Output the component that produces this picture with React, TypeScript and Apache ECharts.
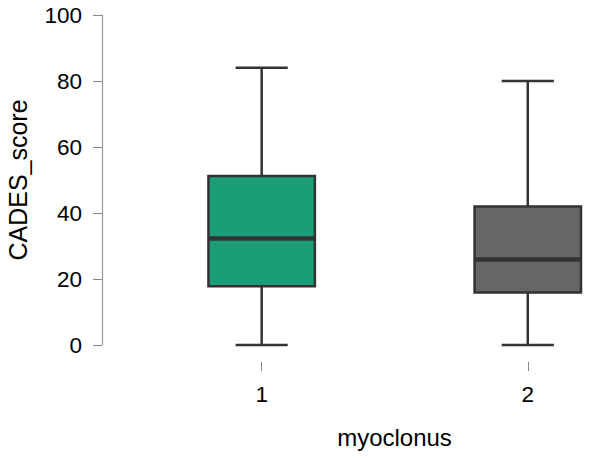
import React, { useEffect, useRef } from "react";
import * as echarts from "echarts";

const groups = [1, 2];
const groupLabels = ["1", "2"];
const whiskerLow = [0, 0];
const q1 = [17.8, 15.9];
const median = [32.3, 25.9];
const q3 = [51.2, 42.0];
const whiskerHigh = [84, 80];
const boxColors = ["#1b9e77", "#666666"];
const yTicks = [0, 20, 40, 60, 80, 100];

const FONT = "Liberation Sans, Arial, Helvetica, sans-serif";
const BOX_HALF = 0.2;
const CAP_HALF = 0.098;
const EDGE = "#333333";

export default function App() {
  const ref = useRef<HTMLDivElement>(null);
  useEffect(() => {
    if (!ref.current) return;
    const chart = echarts.init(ref.current, null, { renderer: "svg" });
    const data = groups.map((g, i) => [g, whiskerLow[i], q1[i], median[i], q3[i], whiskerHigh[i]]);
    chart.setOption({
      animation: false,
      backgroundColor: "#ffffff",
      grid: { left: 102, right: 9, top: 15, bottom: 113, containLabel: false, outerBoundsMode: "none" },
      xAxis: {
        type: "value",
        min: 0.4,
        max: 2.2,
        offset: 17,
        name: "myoclonus",
        nameLocation: "middle",
        nameGap: 63,
        nameTextStyle: { fontFamily: FONT, fontSize: 24, color: "#000", padding: [0, 0, 0, 106] },
        axisLine: { show: false, onZero: false },
        splitLine: { show: false },
        axisTick: { show: true, customValues: groups, length: 9, lineStyle: { color: "#888", width: 1 } },
        axisLabel: {
          customValues: groups,
          margin: 21,
          fontFamily: FONT,
          fontSize: 22.5,
          color: "#000",
          formatter: (v: number) => groupLabels[groups.indexOf(v)] ?? "",
        },
      },
      yAxis: {
        type: "value",
        min: 0,
        max: 100,
        interval: 20,
        name: "CADES_score",
        nameLocation: "middle",
        nameGap: 72,
        nameTextStyle: { fontFamily: FONT, fontSize: 25, color: "#000" },
        axisLine: { show: true, onZero: false, lineStyle: { color: "#999", width: 1.2 } },
        axisTick: { show: true, length: 9, lineStyle: { color: "#888", width: 1 } },
        splitLine: { show: false },
        axisLabel: {
          customValues: yTicks,
          margin: 20,
          fontFamily: FONT,
          fontSize: 22.5,
          color: "#000",
        },
      },
      series: [
        {
          type: "custom",
          data,
          renderItem: (params: any, api: any) => {
            const x = api.value(0);
            const pLo = api.coord([x, api.value(1)]);
            const pQ1 = api.coord([x, api.value(2)]);
            const pMed = api.coord([x, api.value(3)]);
            const pQ3 = api.coord([x, api.value(4)]);
            const pHi = api.coord([x, api.value(5)]);
            const bl = api.coord([x - BOX_HALF, 0])[0];
            const br = api.coord([x + BOX_HALF, 0])[0];
            const cl = api.coord([x - CAP_HALF, 0])[0];
            const cr = api.coord([x + CAP_HALF, 0])[0];
            const cx = pLo[0];
            const lineStyle = { stroke: EDGE, lineWidth: 2.5 };
            return {
              type: "group",
              children: [
                { type: "line", shape: { x1: cx, y1: pLo[1], x2: cx, y2: pQ1[1] }, style: lineStyle },
                { type: "line", shape: { x1: cx, y1: pQ3[1], x2: cx, y2: pHi[1] }, style: lineStyle },
                { type: "line", shape: { x1: cl, y1: pLo[1], x2: cr, y2: pLo[1] }, style: lineStyle },
                { type: "line", shape: { x1: cl, y1: pHi[1], x2: cr, y2: pHi[1] }, style: lineStyle },
                {
                  type: "rect",
                  shape: { x: bl, y: pQ3[1], width: br - bl, height: pQ1[1] - pQ3[1] },
                  style: { fill: boxColors[params.dataIndex], stroke: EDGE, lineWidth: 2.5 },
                },
                { type: "line", shape: { x1: bl, y1: pMed[1], x2: br, y2: pMed[1] }, style: { stroke: EDGE, lineWidth: 4.5 } },
              ],
            };
          },
        },
      ],
    });
    return () => chart.dispose();
  }, []);
  return <div ref={ref} style={{ position: "absolute", left: 0, top: 0, width: 590, height: 458 }} />;
}
